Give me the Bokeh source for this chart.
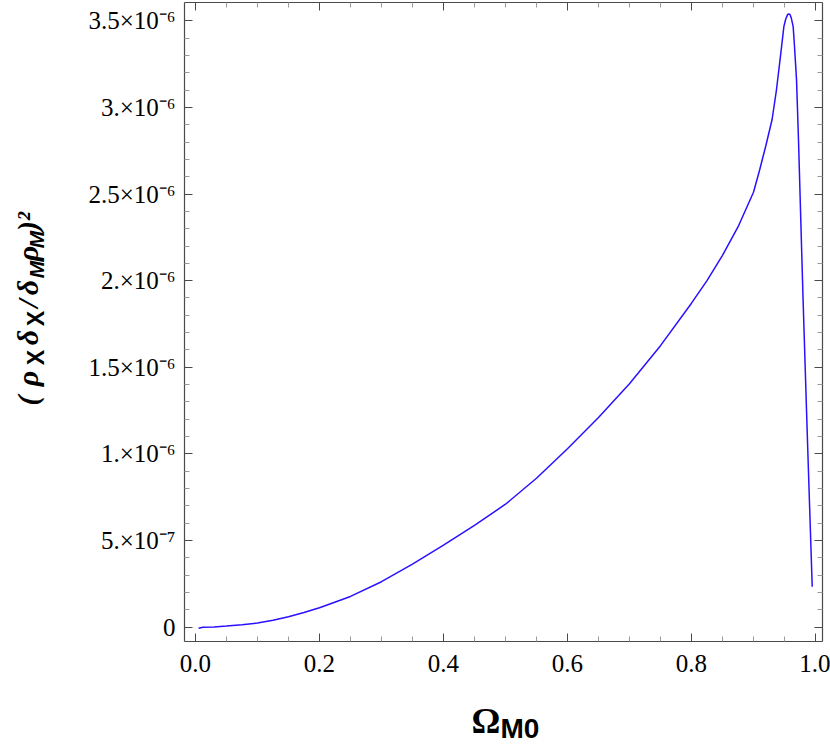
import math
from bokeh.plotting import figure
from bokeh.layouts import row, column
from bokeh.models import (Range1d, LinearAxis, FixedTicker, Label,
                          CustomJSTickFormatter, ColumnDataSource)
from bokeh.embed import file_html
from bokeh.resources import INLINE

# ---- data (y in units of 1e-6) ----
omega_m0 = [0.005, 0.012, 0.03, 0.05, 0.075, 0.10, 0.125, 0.15, 0.175, 0.20,
            0.25, 0.30, 0.35, 0.40, 0.45, 0.50, 0.55, 0.60, 0.65, 0.70,
            0.75, 0.80, 0.825, 0.85, 0.875, 0.90, 0.91, 0.92, 0.93, 0.937,
            0.944, 0.949, 0.952, 0.955, 0.957, 0.959, 0.961, 0.964, 0.966, 0.9694,
            0.9726, 0.9758, 0.980, 0.9866, 0.9947]
ratio_sq_e6 = [-0.006, 0.0, 0.002, 0.007, 0.014, 0.025, 0.041, 0.061, 0.085, 0.113,
               0.178, 0.263, 0.364, 0.474, 0.588, 0.71, 0.86, 1.03, 1.21, 1.405,
               1.625, 1.87, 2.0, 2.146, 2.31, 2.51, 2.64, 2.78, 2.93, 3.10,
               3.31, 3.466, 3.51, 3.535, 3.54, 3.535, 3.515, 3.466, 3.36, 3.16,
               2.81, 2.41, 1.889, 1.13, 0.234]

x_ticks = [0.0, 0.2, 0.4, 0.6, 0.8, 1.0]
x_tick_labels = ["0.0", "0.2", "0.4", "0.6", "0.8", "1.0"]
y_ticks = [0.0, 0.5, 1.0, 1.5, 2.0, 2.5, 3.0, 3.5]
y_tick_labels = ["0", "5.×10⁻⁷", "1.×10⁻⁶", "1.5×10⁻⁶", "2.×10⁻⁶",
                 "2.5×10⁻⁶", "3.×10⁻⁶", "3.5×10⁻⁶"]

x_minor = [round(0.05 * i, 2) for i in range(0, 21) if i % 4]
y_minor = [round(0.1 * i, 1) for i in range(0, 36) if i % 5]

# ---- layout ----
TOTAL_W, TOTAL_H = 830, 747
YLAB_W = 56
MAIN_H = 690
FRAME_TOP, FRAME_BOTTOM = 2, 641
FRAME_COLOR = "#4a4a4a"
MINOR_COLOR = "#9a9a9a"

p = figure(width=TOTAL_W - YLAB_W, height=MAIN_H,
           x_range=Range1d(-0.0177, 1.0113), y_range=Range1d(-0.082, 3.605),
           x_axis_type=None, y_axis_type=None,
           output_backend="svg", toolbar_location=None,
           min_border_left=184 - YLAB_W, min_border_right=TOTAL_W - 822,
           min_border_top=FRAME_TOP, min_border_bottom=MAIN_H - FRAME_BOTTOM)
p.outline_line_color = None


def make_axis(ticks, minor, labels, show_labels):
    ax = LinearAxis(ticker=FixedTicker(ticks=ticks, minor_ticks=minor))
    ax.axis_line_color = FRAME_COLOR
    ax.axis_line_width = 1.2
    ax.major_tick_line_color = FRAME_COLOR
    ax.major_tick_in = 8
    ax.major_tick_out = 0
    ax.minor_tick_line_color = MINOR_COLOR
    ax.minor_tick_in = 5
    ax.minor_tick_out = 0
    if show_labels:
        ax.major_label_overrides = {t: l for t, l in zip(ticks, labels)}
        ax.major_label_text_font = "Liberation Serif"
        ax.major_label_text_font_size = "25px"
        ax.major_label_text_color = "black"
    else:
        ax.formatter = CustomJSTickFormatter(code="return ''")
        ax.major_label_text_font_size = "0px"
        ax.major_label_standoff = 0
    return ax


xb = make_axis(x_ticks, x_minor, x_tick_labels, True)
xb.major_label_standoff = 13
yl = make_axis(y_ticks, y_minor, y_tick_labels, True)
yl.major_label_standoff = 9
p.add_layout(xb, "below")
p.add_layout(yl, "left")
p.add_layout(make_axis(x_ticks, x_minor, x_tick_labels, False), "above")
p.add_layout(make_axis(y_ticks, y_minor, y_tick_labels, False), "right")

src = ColumnDataSource(dict(x=omega_m0, y=ratio_sq_e6))
p.line("x", "y", source=src, line_color="#2a10ff", line_width=1.5)


def text_panel(w, h, y0=0, y1=None):
    f = figure(width=w, height=h, x_range=Range1d(0, w),
               y_range=Range1d(y0, h if y1 is None else y1),
               x_axis_type=None, y_axis_type=None, min_border=0,
               output_backend="svg", toolbar_location=None)
    f.outline_line_color = None
    return f


SERIF = "Liberation Serif"
SANS = "Liberation Sans"
# offset from the alphabetic baseline to the middle of the text box (em)
MID = {SERIF: (0.891 - 0.216) / 2, SANS: (0.905 - 0.212) / 2}

# ---- y axis title: (ρXδX/δMρM)² with subscripts ----
# the panel's frame is aligned with the main frame by the row layout,
# so its y range is chosen to keep data y = MAIN_H - page y
ylab = text_panel(YLAB_W, MAIN_H, MAIN_H - FRAME_BOTTOM, MAIN_H - FRAME_TOP)
MAIN = (SERIF, 30, "bold italic")
SUBX = (SANS, 23, "bold")
SUBM = (SANS, 21, "bold italic")
BASE_X = 37
ypieces = [
    ("(", MAIN, 400, 0),
    ("ρ", MAIN, 378, 0),
    ("X", SUBX, 357, 6),
    ("δ", MAIN, 337, 0),
    ("X", SUBX, 318, 6),
    ("/", MAIN, 303, 0),
    ("δ", MAIN, 287, 0),
    ("M", SUBM, 269, 6),
    ("ρ", MAIN, 253, 0),
    ("M", SUBM, 239, 6),
    (")²", MAIN, 221, 0),
]
for text, (fam, size, style), ycenter, shift in ypieces:
    cx = BASE_X + shift - MID[fam] * size
    ylab.add_layout(Label(x=cx, y=MAIN_H - ycenter, text=text,
                          angle=math.pi / 2, text_font=fam,
                          text_font_size=f"{size}px", text_font_style=style,
                          text_align="center", text_baseline="middle",
                          text_color="black"))

# ---- x axis title: Ω_M0 ----
XLAB_H = TOTAL_H - MAIN_H
xlab = text_panel(TOTAL_W, XLAB_H)
xlab.add_layout(Label(x=471, y=TOTAL_H - (733 - MID[SERIF] * 36), text="Ω",
                      text_font=SERIF, text_font_size="36px",
                      text_font_style="bold", text_align="left",
                      text_baseline="middle", text_color="black"))
xlab.add_layout(Label(x=500, y=TOTAL_H - (738 - MID[SANS] * 28), text="M0",
                      text_font=SANS, text_font_size="28px",
                      text_font_style="bold", text_align="left",
                      text_baseline="middle", text_color="black"))

layout = column(row(ylab, p), xlab)
open("out.html", "w").write(file_html(layout, INLINE))
